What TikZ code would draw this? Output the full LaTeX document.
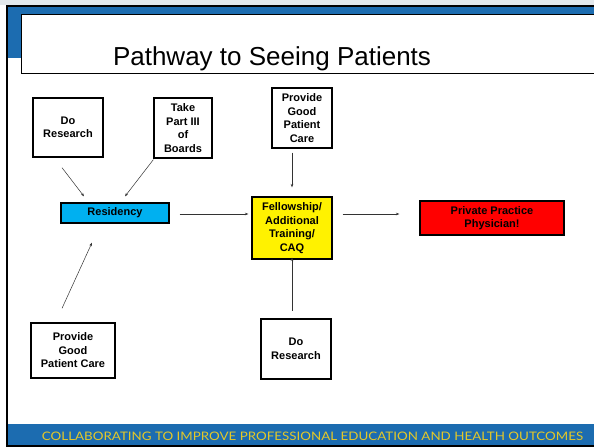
\documentclass[tikz,border=0pt]{standalone}
\usepackage{fontspec}
\setmainfont{Liberation Sans}
\newfontfamily\footfont{Lato}
\usetikzlibrary{calc,arrows.meta}
\definecolor{bandblue}{RGB}{28,108,176}
\definecolor{topgray}{RGB}{226,232,236}
\definecolor{resblue}{RGB}{0,176,240}
\definecolor{gold}{RGB}{228,200,40}
\begin{document}
\begin{tikzpicture}[x=1pt,y=-1pt,
  box/.style={draw=black,line width=1.3pt,inner sep=0pt,align=center,
    font=\bfseries\fontsize{11}{13.5}\selectfont},
  conn/.style={draw=black!80,line width=0.5pt,-{Stealth[length=3.5pt,width=2.6pt]}},
  plain/.style={draw=black!80,line width=0.5pt}]
\useasboundingbox (0,0) rectangle (594,447);
% background
\fill[white] (0,0) rectangle (594,447);
\fill[topgray] (0,0) rectangle (594,5);
\fill[bandblue] (8,7) rectangle (594,58);
\fill[bandblue] (8,424) rectangle (594,445);
\draw[black,line width=2pt] (594,5.5) -- (7,5.5) -- (7,447);
\draw[black,line width=2pt] (6,446) -- (594,446);
% title box
\fill[white] (21,14) rectangle (594,73);
\draw[black,line width=1pt] (594,14) -- (21,14) -- (21,73) -- (594,73);
\node[font=\fontsize{26}{30}\selectfont,anchor=base] (title) at (272,65) {Pathway to Seeing Patients};
% footer
\node[inner sep=0pt] (foot) at (312.5,436.5) {\color{gold}\resizebox{541pt}{8.5pt}{\footfont COLLABORATING TO IMPROVE PROFESSIONAL EDUCATION AND HEALTH OUTCOMES}};
% boxes
\node[box,minimum width=70pt,minimum height=59pt] (dr1) at (68,127.5) {Do\\Research};
\node[box,minimum width=58pt,minimum height=60pt] (tp) at (183,128) {Take\\Part III\\of\\Boards};
\node[box,fill=resblue,minimum width=108pt,minimum height=20pt] (res) at (115,213) {Residency};
\node[box,minimum width=60pt,minimum height=60pt] (pg1) at (302,118) {Provide\\Good\\Patient\\Care};
\node[box,fill=yellow,minimum width=80pt,minimum height=62pt] (fel) at (292,228) {Fellowship/\\Additional\\Training/\\CAQ};
\node[box,fill=red,minimum width=144pt,minimum height=34pt] (pp) at (492,218) {Private Practice\\Physician!};
\node[box,minimum width=84pt,minimum height=55pt] (pg2) at (73,350.5) {Provide\\Good\\Patient Care};
\node[box,minimum width=70pt,minimum height=60pt] (dr2) at (296,349) {Do\\Research};
% connectors
\draw[conn] ($(dr1.south)+(-6,10)$) -- ($(res.north)+(-31,-6)$);
\draw[conn] ($(tp.south west)+(0,1)$) -- ($(res.north)+(10,-6)$);
\draw[conn] ($(pg2.north)+(-11,-14)$) -- ($(res.south)+(-23,19)$);
\draw[conn] ($(res.east)+(10,1)$) -- ($(res.east -| fel.west)+(-3,1)$);
\draw[conn] ($(pg1.south)+(-10,4)$) -- ($(fel.north)+(0,-9)$);
\draw[conn] ($(fel.south)+(0,51)$) -- ($(fel.south)+(0,-2)$);
\draw[conn] ($(fel.east)+(10,-14)$) -- ($(pp.west)+(-20,-4)$);
\end{tikzpicture}
\end{document}
